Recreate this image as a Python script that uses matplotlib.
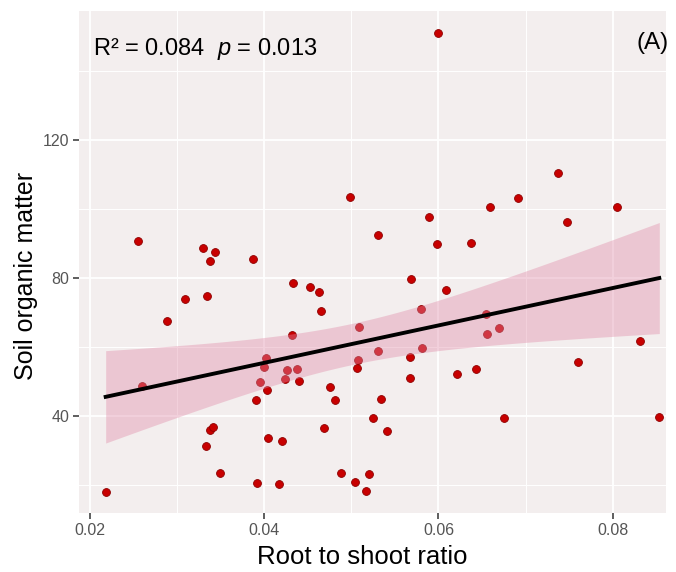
import numpy as np
import matplotlib
matplotlib.use("Agg")
import matplotlib.pyplot as plt
from matplotlib.ticker import MultipleLocator

plt.rcParams['font.family'] = ['Liberation Sans', 'DejaVu Sans']
plt.rcParams['mathtext.fontset'] = 'custom'
plt.rcParams['mathtext.rm'] = 'Liberation Sans'
plt.rcParams['mathtext.it'] = 'Liberation Sans:italic'

# root to shoot ratio vs soil organic matter, one entry per plot
root_shoot = [
    0.02180, 0.02548, 0.02593, 0.02884, 0.03094, 0.03294, 0.03343, 0.03381,
    0.03435, 0.03335, 0.03381, 0.03408, 0.03496, 0.03871, 0.03905, 0.03913,
    0.03948, 0.04001, 0.04017, 0.04035, 0.04043, 0.04166, 0.04200, 0.04242,
    0.04265, 0.04315, 0.04334, 0.04376, 0.04396, 0.04525, 0.04629, 0.04652,
    0.04689, 0.04755, 0.04812, 0.04881, 0.04984, 0.05042, 0.05068, 0.05076,
    0.05088, 0.05168, 0.05199, 0.05245, 0.05302, 0.05302, 0.05344, 0.05409,
    0.05673, 0.05677, 0.05685, 0.05796, 0.05807, 0.05891, 0.05986, 0.05991,
    0.06083, 0.06213, 0.06370, 0.06427, 0.06545, 0.06557, 0.06595, 0.06698,
    0.06749, 0.06909, 0.07375, 0.07479, 0.07601, 0.08053, 0.08313, 0.08535,
]
soil_om = [
    18.0, 90.8, 48.8, 67.5, 73.8, 88.6, 74.8, 85.0,
    87.6, 31.4, 36.0, 36.7, 23.5, 85.4, 44.8, 20.7,
    49.9, 54.2, 56.7, 47.5, 33.7, 20.2, 32.8, 50.6,
    53.3, 63.5, 78.6, 53.6, 50.1, 77.5, 76.1, 70.5,
    36.6, 48.3, 44.8, 23.4, 103.6, 21.0, 53.9, 56.2,
    65.7, 18.3, 23.3, 39.3, 92.6, 59.0, 45.0, 35.7,
    50.9, 57.1, 79.6, 70.9, 59.6, 97.8, 89.9, 150.9,
    76.5, 52.1, 90.1, 53.5, 69.7, 63.8, 100.6, 65.6,
    39.3, 103.2, 110.5, 96.1, 55.7, 100.7, 61.7, 39.6,
]
stats_label = "R² = 0.084  $p$ = 0.013"
panel_label = "(A)"

x = np.array(root_shoot)
y = np.array(soil_om)
n = len(x)

# ordinary least squares with 95% confidence band
slope, intercept = np.polyfit(x, y, 1)
resid = y - (slope * x + intercept)
s = np.sqrt(np.sum(resid ** 2) / (n - 2))
sxx = np.sum((x - x.mean()) ** 2)
t_crit = 1.994  # t(0.975, df=70)
xs = np.linspace(x.min(), x.max(), 100)
ys = slope * xs + intercept
half = t_crit * s * np.sqrt(1.0 / n + (xs - x.mean()) ** 2 / sxx)

fig = plt.figure(figsize=(6.76, 5.72), dpi=100)
ax = fig.add_axes([0.1169, 0.1031, 0.8683, 0.8777])
ax.set_facecolor('#F3EEEE')

ax.scatter(x, y, s=32, color='#C80000', edgecolors='#8E0000', linewidths=0.6, zorder=3)
ax.fill_between(xs, ys - half, ys + half, color='#E18CA8', alpha=0.4, linewidth=0, zorder=4)
ax.plot(xs, ys, color='black', linewidth=2.8, zorder=5)

ax.set_xlim(0.01874, 0.08612)
ax.set_ylim(11.9, 157.4)
ax.xaxis.set_minor_locator(MultipleLocator(0.01))
ax.yaxis.set_minor_locator(MultipleLocator(20))
ax.set_xticks([0.02, 0.04, 0.06, 0.08])
ax.set_xticklabels(['0.02', '0.04', '0.06', '0.08'])
ax.set_yticks([40, 80, 120])
ax.set_yticklabels(['40', '80', '120'])

ax.grid(which='major', color='white', linewidth=1.3, zorder=0)
ax.grid(which='minor', color='white', linewidth=0.7, zorder=0)
ax.set_axisbelow(True)
for sp in ax.spines.values():
    sp.set_visible(False)
ax.tick_params(which='major', length=4, width=1.1, color='#333333',
               labelcolor='#555555', labelsize=11.5, pad=3)
ax.tick_params(which='minor', length=0)

ax.set_xlabel('Root to shoot ratio', fontsize=18.5)
ax.set_ylabel('Soil organic matter', fontsize=18)
ax.xaxis.set_label_coords(0.482, -0.064)
ax.yaxis.set_label_coords(-0.070, 0.472)

ax.text(0.024, 0.925, stats_label, transform=ax.transAxes, fontsize=17,
        va='center', ha='left')
ax.text(1.005, 0.937, panel_label, transform=ax.transAxes, fontsize=17.5,
        va='center', ha='right')

fig.savefig('out.png', dpi=100)
